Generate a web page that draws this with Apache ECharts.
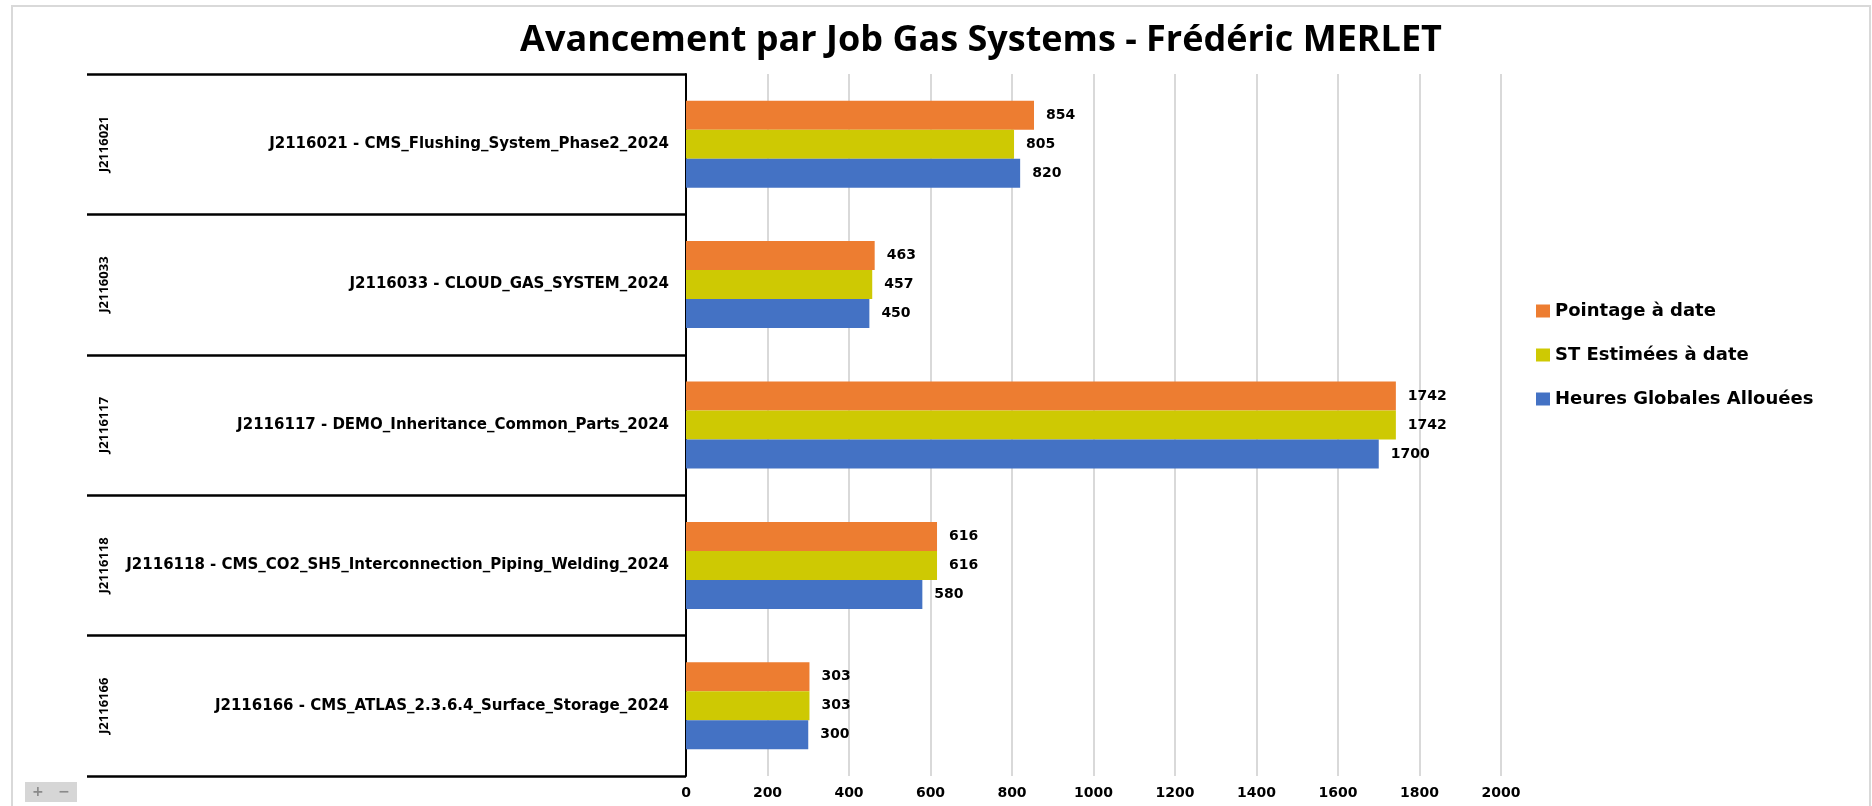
<!DOCTYPE html>
<html>
<head>
<meta charset="utf-8">
<script src="https://cdn.jsdelivr.net/npm/echarts@6/dist/echarts.min.js"></script>
<style>
  html, body { margin: 0; padding: 0; background: #fff; }
  #chart { width: 1872px; height: 806px; }
</style>
</head>
<body>
<div id="chart"></div>
<script>
// données du graphique
const jobCodes = ['J2116021', 'J2116033', 'J2116117', 'J2116118', 'J2116166']
const jobNames = [
  'J2116021 - CMS_Flushing_System_Phase2_2024',
  'J2116033 - CLOUD_GAS_SYSTEM_2024',
  'J2116117 - DEMO_Inheritance_Common_Parts_2024',
  'J2116118 - CMS_CO2_SH5_Interconnection_Piping_Welding_2024',
  'J2116166 - CMS_ATLAS_2.3.6.4_Surface_Storage_2024'
]
const seriesNames = ['Pointage à date', 'ST Estimées à date', 'Heures Globales Allouées']
const pointage = [854, 463, 1742, 616, 303]
const stEstimees = [805, 457, 1742, 616, 303]
const heuresAllouees = [820, 450, 1700, 580, 300]

const FONT = 'Open Sans'
const WIDE = 'DejaVu Sans'

const chart = echarts.init(document.getElementById('chart'))

function makeSeries (name, data, color) {
  return {
    name,
    type: 'bar',
    data,
    barGap: '0%',
    barCategoryGap: '38%',
    itemStyle: { color },
    label: {
      show: true,
      position: 'right',
      distance: 12,
      color: '#000',
      fontFamily: WIDE,
      fontWeight: 'bold',
      fontSize: 14
    },
    emphasis: { disabled: true }
  }
}

chart.setOption({
  animation: false,
  backgroundColor: '#fff',
  title: {
    text: 'Avancement par Job Gas Systems - Frédéric MERLET',
    left: 976,
    top: 18,
    textAlign: 'center',
    textStyle: {
      fontFamily: FONT,
      fontWeight: 'bold',
      fontSize: 36,
      color: '#000'
    }
  },
  legend: {
    orient: 'vertical',
    left: 1531,
    top: 297,
    itemWidth: 14,
    itemHeight: 13,
    itemGap: 26,
    icon: 'rect',
    data: seriesNames,
    textStyle: {
      fontFamily: WIDE,
      fontWeight: 'bold',
      fontSize: 18,
      color: '#000'
    }
  },
  grid: {
    left: 686,
    right: 371,
    top: 74,
    bottom: 30
  },
  xAxis: {
    type: 'value',
    min: 0,
    max: 2000,
    interval: 200,
    axisLine: { show: false },
    axisTick: { show: false },
    splitLine: { lineStyle: { color: '#D9D9D9', width: 2 } },
    axisLabel: {
      margin: 10,
      color: '#000',
      fontFamily: WIDE,
      fontWeight: 'bold',
      fontSize: 14,
      formatter: (v) => String(v)
    }
  },
  yAxis: [
    {
      type: 'category',
      inverse: true,
      data: jobNames,
      axisLine: { show: true, lineStyle: { color: '#000', width: 2 } },
      axisTick: { show: true, length: 599, lineStyle: { color: '#000', width: 2.5 } },
      axisLabel: {
        margin: 17,
        color: '#000',
        fontFamily: WIDE,
        fontWeight: 'bold',
        fontSize: 15
      }
    },
    {
      type: 'category',
      inverse: true,
      position: 'left',
      offset: 582,
      data: jobCodes,
      axisLine: { show: false },
      axisTick: { show: false },
      splitLine: { show: false },
      axisLabel: {
        rotate: 90,
        margin: 0,
        align: 'center',
        verticalAlign: 'middle',
        color: '#000',
        fontFamily: FONT,
        fontWeight: 'bold',
        fontSize: 13
      }
    }
  ],
  graphic: [
    {
      type: 'rect',
      shape: { x: 12, y: 6, width: 1858, height: 820 },
      style: { fill: 'none', stroke: '#D9D9D9', lineWidth: 2 },
      silent: true
    },
    {
      type: 'group',
      left: 25,
      top: 782,
      children: [
        {
          type: 'rect',
          shape: { x: 0, y: 0, width: 52, height: 20 },
          style: { fill: '#D6D6D6' }
        },
        {
          type: 'text',
          x: 26,
          y: 10,
          style: {
            text: '+   −',
            fill: '#8A8A8A',
            font: 'bold 14px "DejaVu Sans"',
            align: 'center',
            verticalAlign: 'middle'
          }
        }
      ]
    }
  ],
  series: [
    makeSeries(seriesNames[0], pointage, '#ED7D31'),
    makeSeries(seriesNames[1], stEstimees, '#CEC903'),
    makeSeries(seriesNames[2], heuresAllouees, '#4472C4')
  ]
})
</script>
</body>
</html>
